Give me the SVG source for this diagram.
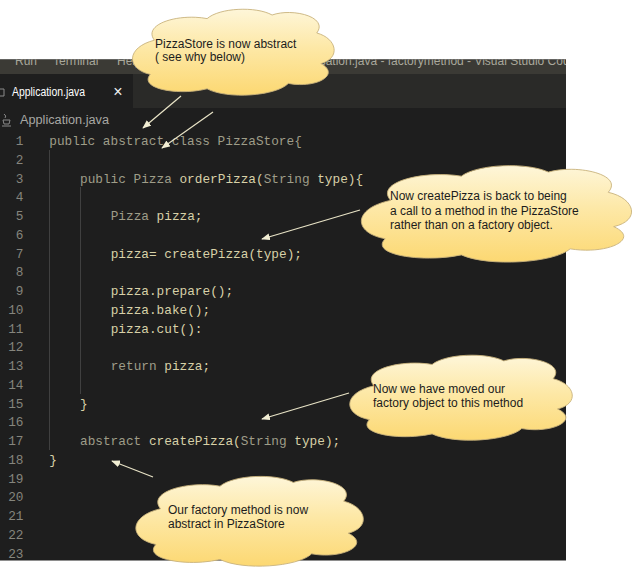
<svg xmlns="http://www.w3.org/2000/svg" width="641" height="571" viewBox="0 0 641 571">
<style>
.code{font-family:"Liberation Mono","DejaVu Sans Mono",monospace;font-size:12.75px;white-space:pre}
.kw{fill:#9e9d89}
.id{fill:#d8d1a8}
.ln{font-family:"Liberation Mono","DejaVu Sans Mono",monospace;font-size:12.75px;fill:#85857d;text-anchor:end}
.note{font-family:"Liberation Sans",Arial,sans-serif;font-size:12px;fill:#1c1c1c}
.guide{stroke:#404040;stroke-width:1}
.arrow{stroke:#e8e3c6;stroke-width:1.2;fill:none;marker-end:url(#ah)}
.cloud{fill:url(#cg);stroke:#c8b27c;stroke-width:0.9}
</style>
<defs>
<linearGradient id="cg" x1="0" y1="0" x2="0" y2="1">
<stop offset="0" stop-color="#fef6d9"/>
<stop offset="0.45" stop-color="#fde8a6"/>
<stop offset="1" stop-color="#fcd872"/>
</linearGradient>
<symbol id="cloudShape" viewBox="0 0 100 100" preserveAspectRatio="none" overflow="visible">
<path class="cloud" vector-effect="non-scaling-stroke" d="M 12,38 C 6,20 24,8 38,14 C 44,2 62,0 70,10 C 80,2 98,12 92,30 C 102,36 104,58 94,64 C 104,76 92,92 78,86 C 72,100 48,104 38,92 C 24,100 4,92 10,76 C -2,70 -2,46 12,38 Z"/>
</symbol>
<marker id="ah" viewBox="0 0 10 8" refX="9" refY="4" markerWidth="9" markerHeight="7" markerUnits="userSpaceOnUse" orient="auto">
<path d="M0,0 L10,4 L0,8 Z" fill="#f2eed4"/>
</marker>
<clipPath id="tclip"><rect x="0" y="59.5" width="566" height="14.5"/></clipPath>
</defs>

<rect x="0" y="0" width="641" height="571" fill="#ffffff"/>

<!-- editor -->
<g id="editor">
<rect x="0" y="59.5" width="566" height="501" fill="#1e1e1e"/>
<rect x="0" y="59.5" width="566" height="14.5" fill="#3b3a35"/>
<g clip-path="url(#tclip)" font-family="'Liberation Sans',Arial,sans-serif" font-size="12" fill="#a9a89c">
<text x="15" y="64.5">Run</text>
<text x="53" y="64.5">Terminal</text>
<text x="117" y="64.5">Help</text>
<text x="293" y="64.5">Application.java - factorymethod - Visual Studio Code</text>
</g>
<rect x="0" y="74" width="566" height="34" fill="#2a2a28"/>
<rect x="0" y="74" width="133" height="34" fill="#1e1e1e"/>
<path d="M0,89 L4,89 L4,96 L0,96" fill="none" stroke="#8a8a8a" stroke-width="1"/>
<text x="12" y="96" font-family="'Liberation Sans',Arial,sans-serif" font-size="12.5" fill="#ffffff" textLength="73" lengthAdjust="spacingAndGlyphs">Application.java</text>
<text x="118" y="97" font-family="'Liberation Sans',Arial,sans-serif" font-size="16" fill="#f0f0f0" text-anchor="middle">×</text>
<g fill="none" stroke="#8a8a8a" stroke-width="1">
<path d="M4,114 Q7,116 5,118"/>
<path d="M3,120 L10,120 L9,124 L4,124 Z"/>
<path d="M2,126 L11,126"/>
</g>
<text x="20" y="124" font-family="'Liberation Sans',Arial,sans-serif" font-size="12.5" fill="#a8a8a4" textLength="89" lengthAdjust="spacingAndGlyphs">Application.java</text>

<!-- indent guides -->
<line class="guide" x1="49.5" y1="150" x2="49.5" y2="450"/>
<line class="guide" x1="80.5" y1="187" x2="80.5" y2="394"/>

<!-- line numbers -->
<text class="ln" x="23.5" y="145">1</text>
<text class="ln" x="23.5" y="163.76">2</text>
<text class="ln" x="23.5" y="182.52">3</text>
<text class="ln" x="23.5" y="201.28">4</text>
<text class="ln" x="23.5" y="220.04">5</text>
<text class="ln" x="23.5" y="238.8">6</text>
<text class="ln" x="23.5" y="257.56">7</text>
<text class="ln" x="23.5" y="276.32">8</text>
<text class="ln" x="23.5" y="295.08">9</text>
<text class="ln" x="23.5" y="313.84">10</text>
<text class="ln" x="23.5" y="332.6">11</text>
<text class="ln" x="23.5" y="351.36">12</text>
<text class="ln" x="23.5" y="370.12">13</text>
<text class="ln" x="23.5" y="388.88">14</text>
<text class="ln" x="23.5" y="407.64">15</text>
<text class="ln" x="23.5" y="426.4">16</text>
<text class="ln" x="23.5" y="445.16">17</text>
<text class="ln" x="23.5" y="463.92">18</text>
<text class="ln" x="23.5" y="482.68">19</text>
<text class="ln" x="23.5" y="501.44">20</text>
<text class="ln" x="23.5" y="520.2">21</text>
<text class="ln" x="23.5" y="538.96">22</text>
<text class="ln" x="23.5" y="557.72">23</text>

<!-- code -->
<text class="code" x="49.3" y="145" xml:space="preserve"><tspan class="kw">public abstract class PizzaStore{</tspan></text>
<text class="code" x="80" y="182.52" xml:space="preserve"><tspan class="kw">public Pizza </tspan><tspan class="id">orderPizza(</tspan><tspan class="kw">String</tspan><tspan class="id"> type){</tspan></text>
<text class="code" x="110.7" y="220.04" xml:space="preserve"><tspan class="kw">Pizza </tspan><tspan class="id">pizza;</tspan></text>
<text class="code id" x="110.7" y="257.56">pizza= createPizza(type);</text>
<text class="code id" x="110.7" y="295.08">pizza.prepare();</text>
<text class="code id" x="110.7" y="313.84">pizza.bake();</text>
<text class="code id" x="110.7" y="332.6">pizza.cut():</text>
<text class="code" x="110.7" y="370.12" xml:space="preserve"><tspan class="kw">return </tspan><tspan class="id">pizza;</tspan></text>
<text class="code id" x="80" y="407.64">}</text>
<text class="code" x="80" y="445.16" xml:space="preserve"><tspan class="kw">abstract </tspan><tspan class="id">createPizza(</tspan><tspan class="kw">String</tspan><tspan class="id"> type);</tspan></text>
<text class="code id" x="49.3" y="463.92">}</text>
</g>

<!-- connectors -->
<g id="connectors">
<line class="arrow" x1="181" y1="96" x2="143" y2="128"/>
<line class="arrow" x1="213" y1="112" x2="162" y2="148"/>
<line class="arrow" x1="360" y1="210" x2="262" y2="239"/>
<line class="arrow" x1="349" y1="393" x2="262" y2="419"/>
<line class="arrow" x1="153" y1="477" x2="112" y2="461"/>
</g>

<!-- notes -->
<g id="note-abstract">
<use href="#cloudShape" x="130" y="6" width="203" height="90"/>
<text class="note" x="155" y="47.5">PizzaStore is now abstract</text>
<text class="note" x="155" y="61">( see why below)</text>
</g>
<g id="note-createPizza">
<use href="#cloudShape" x="358" y="162" width="272" height="101"/>
<text class="note" x="390" y="200">Now createPizza is back to being</text>
<text class="note" x="390" y="214.5">a call to a method in the PizzaStore</text>
<text class="note" x="390" y="229">rather than on a factory object.</text>
</g>
<g id="note-moved">
<use href="#cloudShape" x="347" y="352" width="224" height="89"/>
<text class="note" x="373" y="393">Now we have moved our</text>
<text class="note" x="373" y="407">factory object to this method</text>
</g>
<g id="note-factory">
<use href="#cloudShape" x="133" y="473" width="229" height="94"/>
<text class="note" x="168" y="514">Our factory method is now</text>
<text class="note" x="168" y="527.5">abstract in PizzaStore</text>
</g>
</svg>
